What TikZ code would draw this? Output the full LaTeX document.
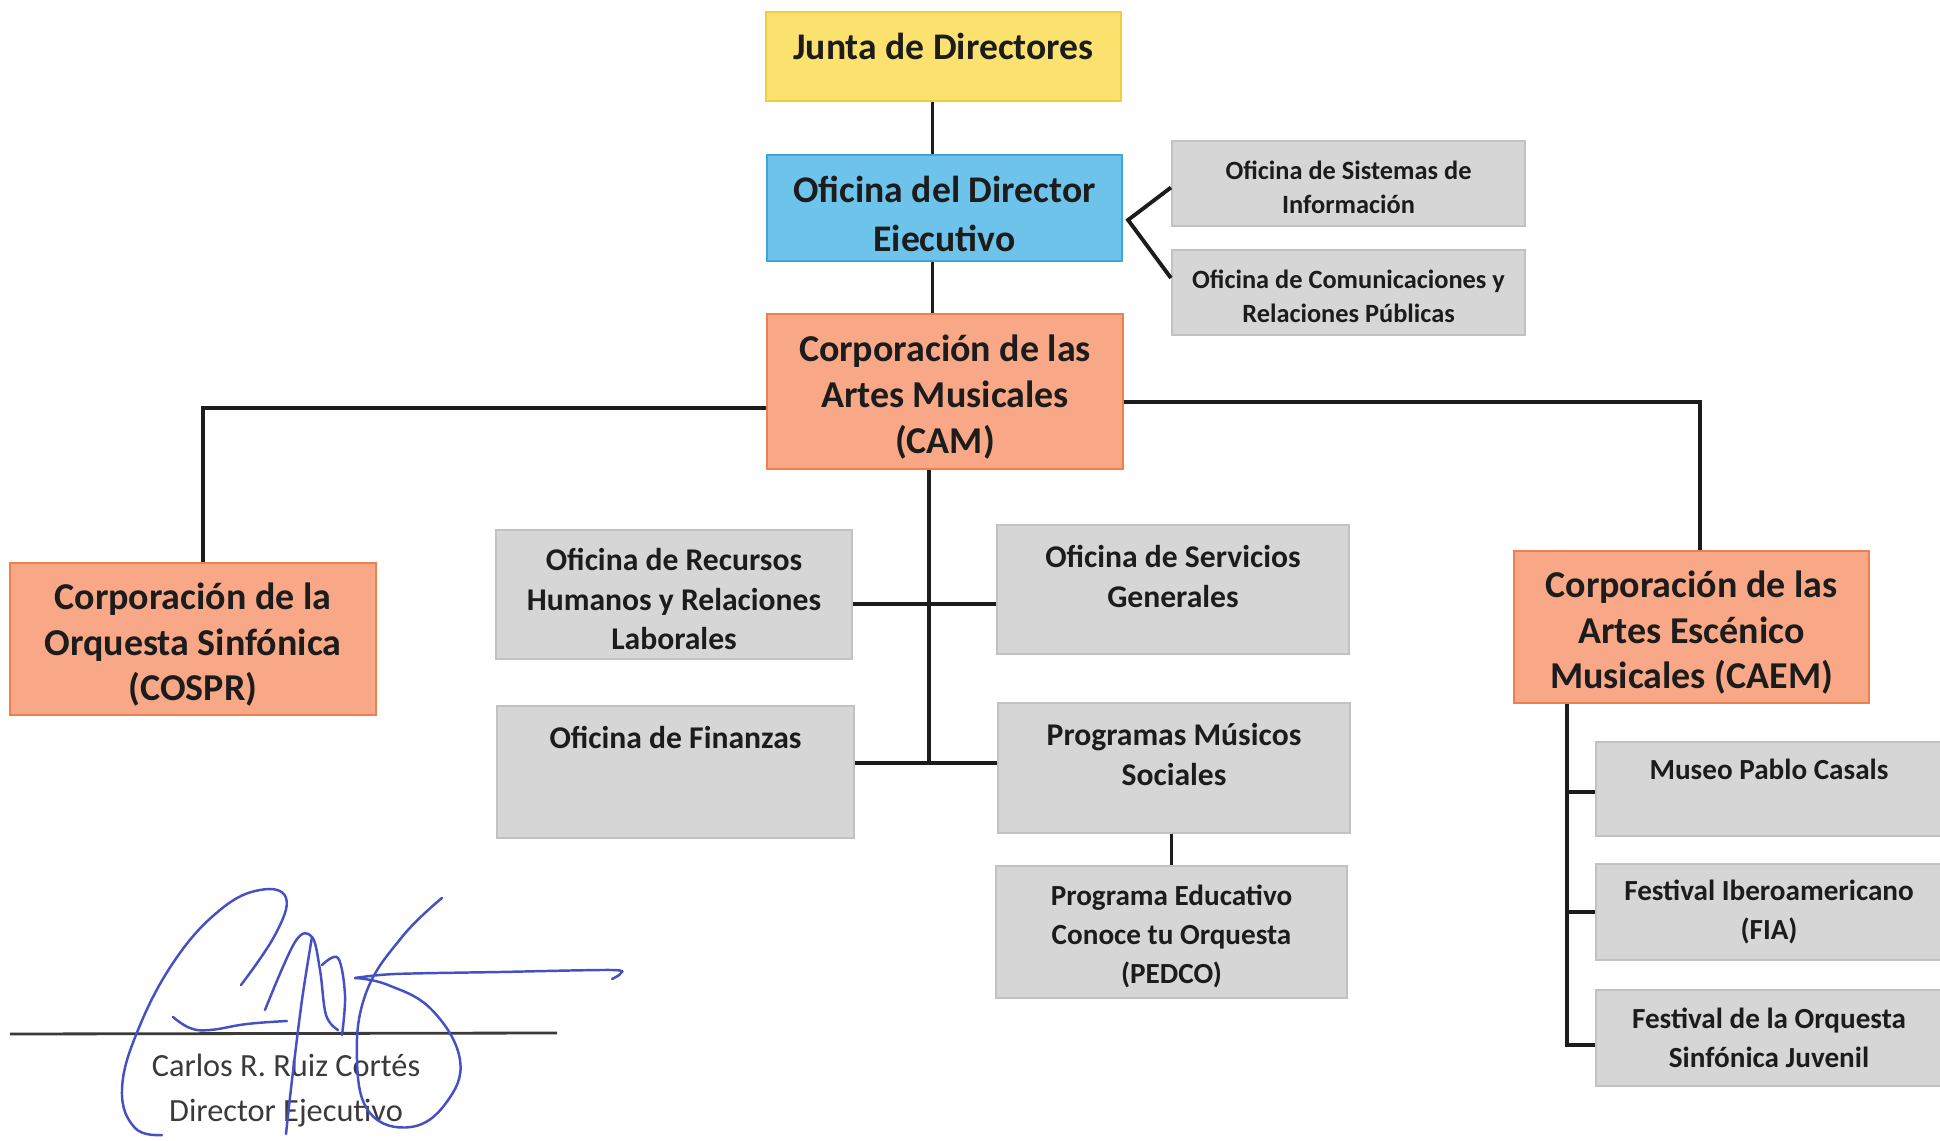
\documentclass[tikz,border=0pt]{standalone}
\usepackage{fontspec}
\setmainfont{Carlito}
\usetikzlibrary{positioning}

\definecolor{ink}{HTML}{1C1C1C}
\definecolor{juntafill}{HTML}{FBE26E}
\definecolor{juntaline}{HTML}{EFCF3C}
\definecolor{dirfill}{HTML}{6EC3EB}
\definecolor{dirline}{HTML}{3DA5DC}
\definecolor{corpfill}{HTML}{F8A887}
\definecolor{corpline}{HTML}{EE8050}
\definecolor{offfill}{HTML}{D6D6D6}
\definecolor{offline}{HTML}{C2C2C2}
\definecolor{signblue}{HTML}{4450C4}
\definecolor{signgray}{HTML}{3A3A3A}

\newcommand{\fontHead}{\fontsize{10.7}{14}\selectfont\bfseries}
\newcommand{\fontCorp}{\fontsize{10.8}{13}\selectfont\bfseries}
\newcommand{\fontOff}{\fontsize{9}{11.2}\selectfont\bfseries}
\newcommand{\fontOffB}{\fontsize{8.3}{11}\selectfont\bfseries}
\newcommand{\fontSmall}{\fontsize{7.5}{9.8}\selectfont\bfseries}
\newcommand{\fontSign}{\fontsize{9.2}{12.6}\selectfont}
\newcommand{\boxstrut}{\rule{0pt}{1.0em}}

\begin{document}
\begin{tikzpicture}[on grid,node distance=1.2cm,
    box/.style={draw,line width=0.6pt,inner sep=0pt,align=center,text=ink},
    headbox/.style={box,font=\fontHead,minimum width=3.55cm},
    corpbox/.style={box,font=\fontCorp,fill=corpfill,draw=corpline,minimum height=1.52cm},
    offbox/.style={box,font=\fontOff,fill=offfill,draw=offline},
    subbox/.style={offbox,font=\fontOffB},
    smallbox/.style={box,font=\fontSmall,fill=offfill,draw=offline,minimum width=3.53cm,minimum height=0.85cm},
    toptext/.style={anchor=north,yshift=-2.1mm,inner sep=0pt,align=center,font=\fontOff,text=ink}]
    \useasboundingbox (0,0) rectangle (19.4,11.4);

    \node[headbox,fill=juntafill,draw=juntaline,minimum height=0.89cm,text height=0.27cm,text depth=0.2cm] (JD) at (9.435,10.835) {Junta de Directores};
    \node[headbox,fill=dirfill,draw=dirline,minimum height=1.06cm] (ODE) at (9.445,9.32) {\boxstrut Oficina del Director\\Eiecutivo};
    \node[corpbox,minimum width=3.56cm,minimum height=1.55cm] (CAM) at (9.45,7.485) {\boxstrut Corporación de las\\Artes Musicales\\(CAM)};
    \node[smallbox] (OSI) at (13.485,9.565) {\boxstrut Oficina de Sistemas de\\Información};
    \node[smallbox] (OCRP) [below=1.09cm of OSI] {\boxstrut Oficina de Comunicaciones y\\Relaciones Públicas};

    \node[corpbox,minimum width=3.66cm] (COSPR) at (1.93,5.01) {\boxstrut Corporación de la\\Orquesta Sinfónica\\(COSPR)};
    \node[corpbox,minimum width=3.55cm] (CAEM) at (16.915,5.13) {\boxstrut Corporación de las\\Artes Escénico\\Musicales (CAEM)};

    \node[offbox,minimum width=3.56cm,minimum height=1.29cm] (ORH) at (6.74,5.455) {\boxstrut Oficina de Recursos\\Humanos y Relaciones\\Laborales};
    \node[offbox,minimum width=3.52cm,minimum height=1.29cm,label={[toptext]north:Oficina de Servicios\\Generales}] (OSG) at (11.73,5.505) {};
    \node[offbox,minimum width=3.57cm,minimum height=1.32cm,label={[toptext]north:Oficina de Finanzas}] (OF) at (6.755,3.68) {};
    \node[offbox,minimum width=3.52cm,minimum height=1.30cm,label={[toptext]north:Programas Músicos\\Sociales}] (PMS) at (11.74,3.72) {};
    \node[subbox,minimum width=3.51cm,minimum height=1.32cm] (PEDCO) at (11.715,2.08) {\boxstrut Programa Educativo\\Conoce tu Orquesta\\(PEDCO)};

    \node[subbox,minimum width=3.46cm,minimum height=0.94cm,label={[toptext,font=\fontOffB,yshift=0.4mm]north:Museo Pablo Casals}] (MPC) at (17.69,3.51) {};
    \node[subbox,minimum width=3.46cm,minimum height=0.96cm] (FIA) [below=1.23cm of MPC] {Festival Iberoamericano\\(FIA)};
    \node[subbox,minimum width=3.46cm,minimum height=0.96cm] (FOSJ) [below=1.26cm of FIA] {Festival de la Orquesta\\Sinfónica Juvenil};

    \tikzset{orgline/.style={line width=1.1pt,draw=ink}}
    \coordinate (ODE_fork) at ([xshift=0.5mm,yshift=-1.2mm]ODE.east);
    \coordinate (CAM_trunk) at ([xshift=-1.6mm]CAM.south);
    \coordinate (ORH_tap) at ([yshift=-0.95mm]ORH.east);
    \coordinate (OF_tap) at ([yshift=0.9mm]OF.east);
    \coordinate (CAEM_bus) at ([xshift=5.4mm]CAEM.south west);
    \path ([xshift=-1.1mm]JD.south) edge [orgline] ([xshift=-1.1mm]JD.south |- ODE.north);
    \path ([xshift=-1.2mm]ODE.south) edge [orgline] ([xshift=-1.2mm]ODE.south |- CAM.north);
    \draw[orgline] ([yshift=-0.4mm]OSI.west) -- (ODE_fork) -- ([yshift=1.45mm]OCRP.west);
    \draw[orgline] ([yshift=-1.65mm]CAM.west) -| ([xshift=1mm]COSPR.north);
    \draw[orgline] ([yshift=-1.05mm]CAM.east) -| ([xshift=0.85mm]CAEM.north);
    \draw[orgline] (CAM_trunk) -- (CAM_trunk |- OF_tap);
    \path (ORH_tap) edge [orgline] (ORH_tap -| OSG.west);
    \path (OF_tap) edge [orgline] (OF_tap -| PMS.west);
    \path (PEDCO.north) edge [orgline] (PEDCO.north |- PMS.south);
    \draw[orgline] (CAEM_bus) |- ([yshift=-0.3mm]MPC.west);
    \draw[orgline] (CAEM_bus) |- (FIA.west);
    \draw[orgline] (CAEM_bus) |- ([yshift=-0.7mm]FOSJ.west);

    % firma
    \draw[line width=0.8pt,draw=signgray] (0.1,1.06) -- (5.57,1.07);
    \node[font=\fontSign,text=signgray] (SIG_name) at (2.86,0.75) {Carlos R. Ruiz Cortés};
    \node[font=\fontSign,text=signgray] (SIG_title) at (2.86,0.27) {Director Ejecutivo};
    \tikzset{sign/.style={line width=0.7pt,draw=signblue,line cap=round}}
    \draw[sign] plot[smooth,tension=0.7] coordinates {(2.41,1.55) (2.75,2.05) (2.86,2.42) (2.6,2.5) (2.2,2.3) (1.75,1.8) (1.38,1.1) (1.22,0.5) (1.35,0.12) (1.62,0.05)};
    \draw[sign] plot[smooth,tension=0.7] coordinates {(1.73,1.23) (1.9,1.12) (2.1,1.1) (2.47,1.16) (2.87,1.19)};
    \draw[sign] plot[smooth,tension=0.6] coordinates {(2.65,1.3) (2.95,1.98) (3.12,2.03) (3.2,1.7) (3.26,1.25) (3.38,1.1)};
    \draw[sign] plot[smooth,tension=0.6] coordinates {(3.12,2.03) (3.02,1.4) (2.92,0.6) (2.86,0.06)};
    \draw[sign] plot[smooth,tension=0.6] coordinates {(3.22,1.75) (3.38,1.82) (3.45,1.45) (3.42,1.05)};
    \draw[sign] plot[smooth,tension=0.7] coordinates {(4.42,2.42) (4.02,2.03) (3.66,1.47) (3.57,0.8) (3.7,0.27) (4.11,0.13) (4.46,0.37) (4.6,0.8) (4.32,1.3) (3.88,1.55) (3.55,1.62)};
    \draw[sign] plot[smooth,tension=0.5] coordinates {(3.55,1.62) (3.95,1.66) (5.0,1.68) (6.12,1.7) (6.2,1.66) (6.12,1.61)};
\end{tikzpicture}
\end{document}
